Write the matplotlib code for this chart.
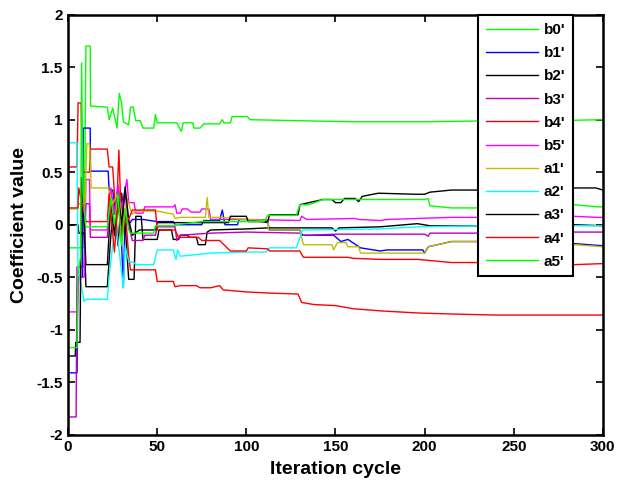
import matplotlib
matplotlib.use("Agg")
import matplotlib.pyplot as plt

plt.rcParams['font.family'] = ['Liberation Sans', 'DejaVu Sans']
plt.rcParams['font.weight'] = 'bold'
plt.rcParams['axes.unicode_minus'] = False

# 系数迭代曲线（从图上读取的转折点）
b0_x = [0, 9, 10, 12.4, 12.6, 21, 22, 23, 25, 27.5, 28.7, 30, 31, 34, 35, 36.5, 38, 40.5, 42, 48,
        49, 50, 59, 61, 63.5, 64.6, 70, 70.5, 74, 76, 85, 86.5, 87.5, 91, 92, 100.5, 102, 130, 160, 200,
        240, 270, 300]
b0_y = [-0.22, -0.22, 1.70, 1.70, 1.13, 1.12, 1.12, 1.00, 1.11, 0.92, 1.25, 1.16, 0.98, 0.95, 1.12, 1.12, 0.99, 0.99, 0.92, 0.92,
        1.05, 0.97, 0.97, 0.97, 0.89, 0.97, 0.97, 0.92, 0.92, 0.96, 0.96, 1.00, 0.97, 0.97, 1.03, 1.03, 1.00, 0.99, 0.98, 0.98,
        0.99, 0.99, 1.00]

b1_x = [0, 5, 5.5, 8, 8.5, 12.4, 12.6, 22.5, 23, 25, 27, 29, 31, 32, 34, 36, 42, 50, 59, 60,
        63, 75, 76, 85, 86.5, 88, 95, 96, 100, 112, 113, 130, 131.5, 149, 153, 157, 164, 175, 179, 199,
        200, 202, 215, 231, 284, 300]
b1_y = [-1.41, -1.41, -0.5, -0.5, 0.92, 0.92, 0.51, 0.51, 0.33, 0.33, 0.1, 0.25, -0.6, 0.1, 0.0, 0.05, 0.05, 0.03, 0.03, 0.0,
        0.0, 0.0, 0.04, 0.04, 0.14, 0.0, 0.0, 0.05, 0.05, 0.02, -0.05, -0.05, -0.10, -0.10, -0.16, -0.14, -0.22, -0.25, -0.24, -0.24,
        -0.27, -0.21, -0.16, -0.16, -0.18, -0.20]

b2_x = [0, 5.5, 6, 9, 10, 22, 24, 26, 28, 30, 32, 34, 37, 38, 41, 42, 50, 51, 58, 59,
        62, 63, 67, 68, 72, 73, 77, 78, 80, 100, 112, 130, 148, 150, 152, 175, 196, 203, 231, 284,
        300]
b2_y = [0.0, 0.0, -0.08, -0.08, -0.59, -0.59, -0.1, 0.25, -0.2, 0.3, 0.0, -0.52, -0.52, 0.08, 0.08, -0.14, -0.14, -0.05, -0.05, -0.14,
        -0.14, -0.1, -0.1, -0.12, -0.12, -0.19, -0.19, -0.07, -0.05, -0.04, -0.03, -0.03, -0.03, -0.06, -0.03, -0.02, 0.01, -0.01, -0.01, 0.0,
        -0.01]

b3_x = [0, 4.5, 5, 9, 10, 12, 12.5, 22, 24, 26, 28, 30, 32, 34, 36, 42, 43, 49, 50, 60,
        61, 63, 80, 100, 130, 131, 135, 150, 165, 200, 202, 203, 215, 231, 284, 300]
b3_y = [-1.83, -1.83, -0.4, -0.4, 0.2, 0.2, -0.12, -0.12, 0.3, 0.1, 0.35, 0.0, 0.3, 0.0, -0.15, -0.15, -0.1, -0.1, -0.02, -0.02,
        -0.15, -0.1, -0.08, -0.07, -0.08, -0.10, -0.10, -0.09, -0.09, -0.09, -0.11, -0.08, -0.08, -0.08, -0.07, -0.07]

b4_x = [0, 5, 5.6, 7.3, 8, 9, 12, 12.5, 22, 23, 25, 26, 27, 28.5, 29.5, 30.5, 32, 34, 35, 49,
        50, 59, 60, 63, 72, 74, 80, 85, 87, 100, 112, 129, 131, 138, 150, 160, 175, 196, 215, 240,
        300]
b4_y = [0.55, 0.55, 1.16, 1.16, 0.5, 0.5, 0.5, 0.72, 0.72, 0.55, 0.55, 0.3, 0.05, 0.71, 0.2, -0.1, 0.15, -0.3, -0.43, -0.43,
        -0.54, -0.54, -0.59, -0.58, -0.58, -0.6, -0.6, -0.58, -0.62, -0.64, -0.65, -0.66, -0.74, -0.76, -0.77, -0.80, -0.82, -0.84, -0.85, -0.86,
        -0.86]

b5_x = [0, 5, 6, 9, 10, 12, 12.5, 22, 24, 26, 28, 30, 33, 34, 37, 38, 42, 43, 50, 59,
        60, 61, 63, 64, 67, 69, 74, 75, 79, 80, 100, 130, 131, 134, 161, 163, 175, 179, 215, 231,
        284, 297, 300]
b5_y = [-0.83, -0.83, -0.5, -0.5, 0.43, 0.43, -0.05, -0.05, 0.35, 0.1, 0.38, 0.15, 0.43, 0.21, 0.21, 0.11, 0.11, 0.17, 0.17, 0.17,
        0.19, 0.11, 0.11, 0.15, 0.15, 0.12, 0.12, 0.15, 0.15, 0.05, 0.05, 0.04, 0.08, 0.05, 0.06, 0.05, 0.04, 0.05, 0.07, 0.07,
        0.08, 0.07, 0.07]

a1_x = [0, 5.5, 6, 9.5, 10.5, 12, 13, 22.5, 25, 28, 31, 33, 36, 38, 50, 59, 60, 63, 72, 77,
        78, 79, 85, 100, 112, 112.5, 130, 132, 148, 149, 151, 156, 157, 163, 164, 200, 202, 215, 231, 284,
        300]
a1_y = [0.15, 0.15, 0.2, 0.2, 0.77, 0.77, 0.35, 0.35, 0.2, 0.3, 0.0, 0.25, 0.1, 0.13, 0.13, 0.1, 0.06, 0.07, 0.07, 0.07,
        0.26, 0.07, 0.07, 0.05, 0.04, -0.05, -0.05, -0.19, -0.19, -0.24, -0.17, -0.17, -0.21, -0.21, -0.27, -0.27, -0.21, -0.16, -0.16, -0.19,
        -0.21]

a2_x = [0, 5, 5.5, 8, 9, 10, 22, 23, 25, 27, 29, 31, 32, 34, 37, 38, 48, 50, 59, 60.5,
        61.5, 63, 80, 100, 102, 111, 113, 128, 131.5, 135, 175, 196, 231, 284, 300]
a2_y = [0.78, 0.78, -0.4, -0.64, -0.73, -0.71, -0.71, -0.5, -0.2, 0.0, -0.3, -0.6, -0.2, -0.35, -0.36, -0.38, -0.38, -0.24, -0.24, -0.33,
        -0.24, -0.30, -0.27, -0.26, -0.26, -0.26, -0.22, -0.22, -0.05, -0.05, -0.04, -0.02, -0.01, -0.01, -0.01]

a3_x = [0, 4, 4.3, 6.7, 7.5, 9, 10, 22, 24, 26, 28, 30, 32, 34, 36, 40, 49, 50, 62, 90,
        91, 100, 101, 112, 113, 129, 130, 135, 143, 148, 150, 153, 155, 161, 163, 165, 174, 195, 200, 203,
        215, 231, 284, 296, 300]
a3_y = [-1.25, -1.25, -1.12, -1.12, 0.45, 0.0, -0.38, -0.38, 0.2, -0.1, 0.3, 0.0, 0.36, 0.05, -0.1, -0.05, -0.05, 0.02, 0.02, 0.02,
        0.08, 0.08, 0.03, 0.03, 0.095, 0.095, 0.19, 0.21, 0.24, 0.24, 0.21, 0.21, 0.25, 0.25, 0.22, 0.27, 0.30, 0.29, 0.29, 0.31,
        0.33, 0.33, 0.35, 0.35, 0.33]

a4_x = [0, 5.5, 6, 10, 22, 23, 24, 26, 28, 30, 32, 34, 36, 42, 49, 50, 51, 60, 62, 73,
        75, 85, 88, 91, 100, 101, 112, 113, 130, 132, 157, 160, 175, 196, 215, 231, 284, 300]
a4_y = [0.16, 0.16, 0.35, 0.03, 0.03, 0.3, 0.1, -0.26, 0.2, -0.1, 0.1, 0.05, 0.14, 0.14, 0.14, -0.05, -0.05, -0.05, -0.12, -0.12,
        -0.15, -0.15, -0.2, -0.25, -0.25, -0.22, -0.23, -0.25, -0.25, -0.31, -0.31, -0.32, -0.33, -0.33, -0.36, -0.36, -0.38, -0.37]

a5_x = [0, 5, 5.5, 7, 7.6, 8.3, 10, 22, 24, 26, 28, 30, 32, 34, 35, 48, 49, 59, 60, 75,
        110, 112, 128, 130, 135, 143, 200, 202, 203, 215, 231, 284, 297, 300]
a5_y = [-1.17, -1.17, -0.5, -0.3, 1.54, 0.3, -0.02, -0.02, 0.25, 0.0, 0.3, -0.2, 0.15, -0.05, -0.08, -0.08, -0.01, -0.01, 0.0, 0.03,
        0.03, 0.09, 0.09, 0.19, 0.19, 0.24, 0.24, 0.25, 0.18, 0.16, 0.16, 0.19, 0.17, 0.17]

labels = ["b0'", "b1'", "b2'", "b3'", "b4'", "b5'", "a1'", "a2'", "a3'", "a4'", "a5'"]
colors = ['#00ff00', '#0000ff', '#000000', '#bf00bf', '#ff0000', '#ff00ff',
          '#bfbf00', '#00ffff', '#000000', '#ff0000', '#00ff00']
series = [(b0_x, b0_y), (b1_x, b1_y), (b2_x, b2_y), (b3_x, b3_y), (b4_x, b4_y), (b5_x, b5_y),
          (a1_x, a1_y), (a2_x, a2_y), (a3_x, a3_y), (a4_x, a4_y), (a5_x, a5_y)]

xticks = [0, 50, 100, 150, 200, 250, 300]
yticks = [-2, -1.5, -1, -0.5, 0, 0.5, 1, 1.5, 2]
ytick_labels = ['-2', '-1.5', '-1', '-0.5', '0', '0.5', '1', '1.5', '2']

fig = plt.figure(figsize=(6.19, 4.88), dpi=100)
ax = fig.add_axes([0.110, 0.109, 0.864, 0.861])

for (xs, ys), c, lab in zip(series, colors, labels):
    ax.plot(xs, ys, color=c, linewidth=1.0, label=lab)

ax.set_xlim(0, 300)
ax.set_ylim(-2, 2)
ax.set_xticks(xticks)
ax.set_xticklabels([str(t) for t in xticks])
ax.set_yticks(yticks)
ax.set_yticklabels(ytick_labels)
ax.tick_params(direction='in', top=True, right=True, length=5, width=1.2,
               labelsize=11, pad=4)
for lbl in ax.get_xticklabels() + ax.get_yticklabels():
    lbl.set_fontweight('bold')
for sp in ax.spines.values():
    sp.set_linewidth(1.8)

ax.set_xlabel('Iteration cycle', fontsize=14, fontweight='bold', labelpad=5)
ax.set_ylabel('Coefficient value', fontsize=14, fontweight='bold', labelpad=6)

leg = ax.legend(loc='upper right', bbox_to_anchor=(0.944, 0.998), borderaxespad=0,
                fontsize=11, frameon=True, fancybox=False, handlelength=3.4,
                handletextpad=0.4, labelspacing=0.6, borderpad=0.5)
leg.get_frame().set_edgecolor('black')
leg.get_frame().set_linewidth(1.5)
leg.get_frame().set_alpha(1)
for t in leg.get_texts():
    t.set_fontweight('bold')

fig.savefig('out.png', dpi=100)
